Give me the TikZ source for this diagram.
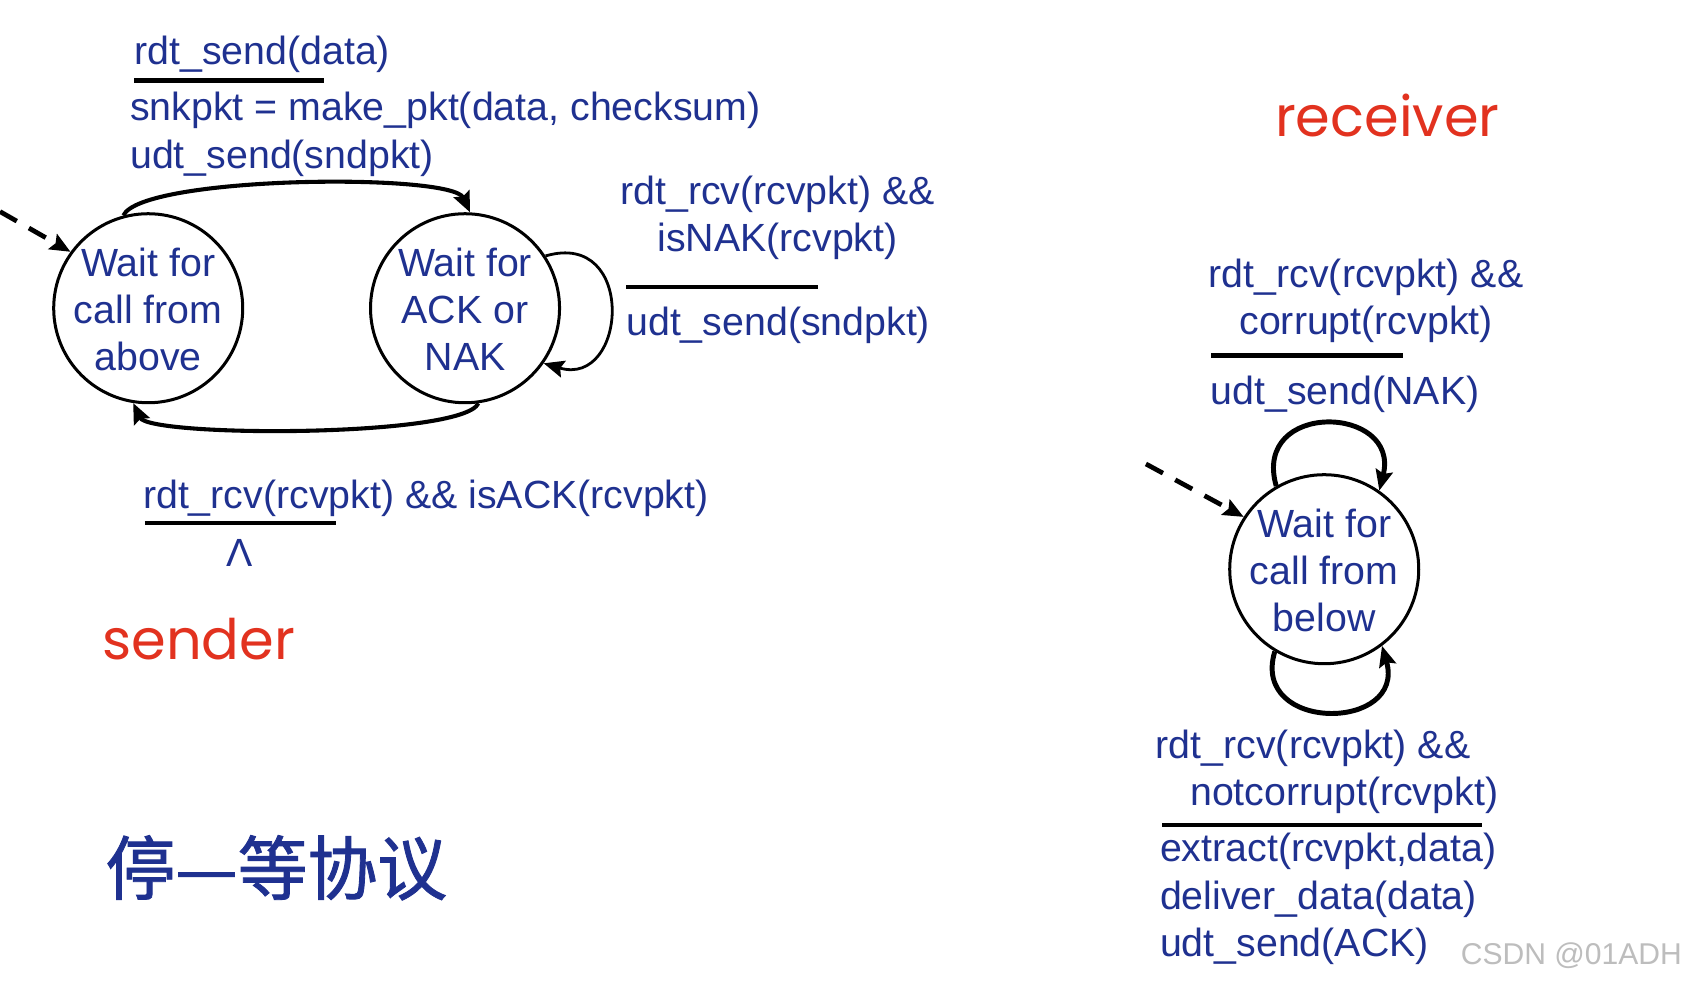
\documentclass[tikz,border=0pt]{standalone}
\usepackage{fontspec}
\setmainfont{Liberation Sans}
\newfontfamily\handfont{Poppins}
\newfontfamily\cjk[FakeBold=1.2]{Noto Sans CJK SC}
\usetikzlibrary{arrows.meta}
\definecolor{fsmtext}{HTML}{1F3190}
\definecolor{rolered}{HTML}{E2321F}
\definecolor{markgray}{HTML}{BDBDBD}

\begin{document}
\begin{tikzpicture}[x=1pt,y=-1pt,
  every node/.style={font=\fontsize{36.6}{44}\selectfont,text=fsmtext,inner sep=0pt},
  state/.style={draw=black,line width=2.8pt,circle,minimum size=176pt},
  trans/.style={line width=3.8pt,-{Stealth[length=19pt,width=16pt,inset=3pt]}},
  thinloop/.style={trans,line width=2.6pt},
  fatloop/.style={trans,line width=4.6pt},
  init/.style={trans,line width=4.4pt,dash pattern=on 18pt off 13pt},
  bar/.style={line width=4pt},
  lbl/.style={anchor=west,yshift=-3pt},
  guard/.style={align=center,yshift=-3pt},
  role/.style={anchor=west,text=rolered,font=\handfont\fontsize{52}{60}\selectfont}]
  \useasboundingbox[fill=white] (0,0) rectangle (1568,915);

  % sender states
  \node[state] (above) at (138,287) {};
  \node[align=center,yshift=-1pt] (abovetxt) at (above) {Wait for\\call from\\above};
  \node[state] (ackwait) at (433,287) {};
  \node[align=center,yshift=-1pt] (ackwaittxt) at (ackwait) {Wait for\\ACK or\\NAK};
  \coordinate (sndstart) at (0,197);
  \draw[init] (sndstart) -- (above.144);
  \draw[trans] (above.105) .. controls +(17,-37) and +(-17,-37) .. (ackwait.87);
  \draw[trans] (ackwait.278) .. controls +(-15,32) and +(15,32) .. (above.261);
  \draw[thinloop] (ackwait.33) .. controls +(85,-25) and +(78,23) .. (ackwait.-35);

  % sender labels
  \node[lbl] (sndev) at (125,48) {rdt\_send(data)};
  \node[lbl,align=left] (sndact) at (121,122) {snkpkt = make\_pkt(data, checksum)\\udt\_send(sndpkt)};
  \node[guard] (nakev) at (724,200) {rdt\_rcv(rcvpkt) \&\&\\isNAK(rcvpkt)};
  \node[lbl] (nakact) at (583,300) {udt\_send(sndpkt)};
  \node[lbl] (ackev) at (133,461) {rdt\_rcv(rcvpkt) \&\& isACK(rcvpkt)};
  \node (ackact) at (223,515) {Λ};
  \node[role] (sender) at (95,595) {sender};
  \node[lbl,font=\cjk\fontsize{65}{72}\selectfont] (title) at (98,805) {停—等协议};

  % receiver state
  \node[role] (receiver) at (1187,108) {receiver};
  \node[state] (below) at (1233,530) {};
  \node[align=center,yshift=-1pt] (belowtxt) at (below) {Wait for\\call from\\below};
  \coordinate (rcvstart) at (1067,432);
  \draw[init] (rcvstart) -- (below.147);
  \draw[fatloop] (below.120) .. controls +(-23,-80) and +(20,-80) .. (below.55);
  \draw[fatloop] (below.239) .. controls +(-23,76) and +(23,80) .. (below.307);

  % receiver labels
  \node[guard] (nakrcv) at (1272,277) {rdt\_rcv(rcvpkt) \&\&\\corrupt(rcvpkt)};
  \node[lbl] (nakout) at (1127,364) {udt\_send(NAK)};
  \node[lbl,align=left] (okev) at (1076,716) {rdt\_rcv(rcvpkt) \&\&\\\hspace*{32pt}notcorrupt(rcvpkt)};
  \node[lbl,align=left] (okact) at (1080,834) {extract(rcvpkt,data)\\deliver\_data(data)\\udt\_send(ACK)};
  \node[lbl,text=markgray,font=\fontsize{28}{32}\selectfont] (csdn) at (1360,887) {CSDN @01ADH};

  % event/action rules
  \foreach \xa/\xb/\yy in {125/302/75,583/762/267,135/313/487,1128/1306/331,1082/1380/768}
    \draw[bar] (\xa,\yy) -- (\xb,\yy);
\end{tikzpicture}
\end{document}
